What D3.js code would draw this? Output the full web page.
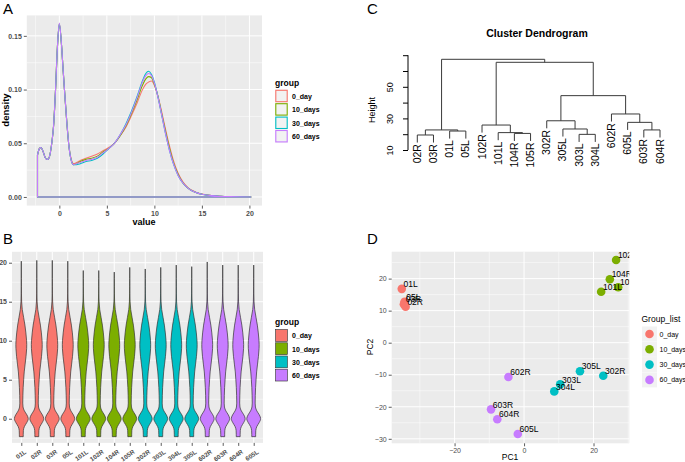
<!DOCTYPE html>
<html><head><meta charset="utf-8">
<script src="https://cdn.jsdelivr.net/npm/d3@7"></script>
<style>
body{margin:0;background:#fff;}
svg{display:block;font-family:"Liberation Sans",Arial,Helvetica,sans-serif;}
</style></head><body>
<svg id="c" width="685" height="462"></svg>
<script>
// ---------- shared ----------
const groups = ["0_day","10_days","30_days","60_days"];
const groupColors = ["#F8766D","#7CAE00","#00BFC4","#C77CFF"];

// ---------- Panel A: density ----------
const densX  = [-2.3,-2.1,-1.93,-1.7,-1.45,-1.22,-1.0,-0.8,-0.6,-0.4,-0.2,0.0,0.2,0.4,0.6,0.8,1.0,1.2,1.5,1.8,2.2,2.8,3.4,4.0,4.6,5.2,5.8,6.4,7.0,7.6,8.2,8.7,9.1,9.4,9.7,10.0,10.4,10.8,11.2,11.6,12.0,12.5,13.0,13.5,14.0,14.5,15.0,16.0,17.0,18.0,19.0,20.2];
const dens0  = [0.039,0.045,0.046,0.042,0.036,0.035,0.039,0.050,0.067,0.100,0.140,0.161,0.145,0.118,0.092,0.068,0.048,0.037,0.031,0.032,0.034,0.036,0.038,0.040,0.043,0.046,0.050,0.057,0.065,0.076,0.088,0.099,0.105,0.107,0.108,0.104,0.093,0.078,0.062,0.047,0.034,0.022,0.014,0.009,0.006,0.004,0.0028,0.0013,0.0006,0.0003,0.0001,0];
const dens10 = [0.039,0.045,0.046,0.042,0.036,0.035,0.039,0.050,0.067,0.100,0.140,0.161,0.145,0.118,0.092,0.068,0.048,0.036,0.030,0.031,0.033,0.035,0.036,0.038,0.042,0.045,0.050,0.057,0.066,0.078,0.091,0.103,0.110,0.112,0.111,0.105,0.093,0.076,0.060,0.045,0.032,0.021,0.013,0.0085,0.0055,0.0038,0.0026,0.0012,0.0006,0.0003,0.0001,0];
const dens30 = [0.039,0.045,0.046,0.042,0.036,0.035,0.039,0.050,0.067,0.100,0.140,0.161,0.145,0.118,0.092,0.068,0.048,0.036,0.030,0.030,0.031,0.033,0.034,0.036,0.040,0.045,0.050,0.058,0.068,0.080,0.094,0.107,0.115,0.117,0.114,0.107,0.092,0.075,0.058,0.043,0.031,0.020,0.013,0.0085,0.0055,0.0038,0.0026,0.0012,0.0006,0.0003,0.0001,0];
const dens60 = [0.039,0.045,0.046,0.042,0.036,0.035,0.039,0.050,0.067,0.100,0.140,0.162,0.145,0.118,0.092,0.068,0.048,0.036,0.030,0.031,0.032,0.034,0.035,0.037,0.041,0.045,0.050,0.058,0.067,0.079,0.093,0.106,0.113,0.115,0.113,0.106,0.092,0.075,0.058,0.043,0.031,0.020,0.013,0.0085,0.0055,0.0038,0.0026,0.0012,0.0006,0.0003,0.0001,0];
const densTicksX = [0,5,10,15,20];
const densTicksY = [0,0.05,0.10,0.15];

// ---------- Panel B: violins ----------
const samples = ["01L","02R","03R","05L","101L","102R","104R","105R","302R","303L","304L","305L","602R","603R","604R","605L"];
const sampleGroup = [0,0,0,0,1,1,1,1,2,2,2,2,3,3,3,3];
const sampleMax = [20.2,20.3,20.3,20.2,19.0,19.0,18.8,19.4,19.2,19.4,19.7,19.5,20.1,19.7,19.7,19.7];
const violinLevels = [-2.3,-2.0,-1.5,-1.0,-0.5,0,0.5,1.0,1.5,2.0,3.0,4.0,5.0,6.0,7.0,8.0,9.0,9.5,10.0,11.0,12.0,13.0,14.0,15.0,16.0,17.0,18.0];
const violinWidth  = [0.28,0.28,0.30,0.45,0.78,1.0,0.80,0.45,0.25,0.21,0.23,0.27,0.34,0.42,0.55,0.68,0.77,0.78,0.76,0.66,0.52,0.33,0.14,0.05,0.025,0.015,0.008];
const violinTicksY = [0,5,10,15,20];

// ---------- Panel C: dendrogram ----------
const leafLabels = ["02R","03R","01L","05L","102R","101L","104R","105R","302R","305L","303L","304L","602R","605L","603R","604R"];
// R hclust-style merges: negative = leaf (1-based position in leafLabels), positive = earlier merge
const mergeA = [-1,-7,-11,-6,-3, 1,-15,-10,-5,-14,-9,-13,11, 9, 6];
const mergeB = [-2,-8,-12, 2,-4, 5,-16,  3, 4,  7, 8, 10,12,13,14];
const mergeH = [19.5,20.5,19.9,21.0,22.0,22.7,22.7,23.3,25.8,27.5,28.5,32.8,44.4,65.5,67.4];
const dendTicks = [10,20,30,40,50,60,70];
const dendTickLabels = [10,30,50];

// ---------- Panel D: PCA ----------
const pcaLabels = ["01L","05L","03R","02R","102R","104R","105R","101L","305L","302R","303L","304L","602R","603R","604R","605L"];
const pcaGroup  = [0,0,0,0,1,1,1,1,2,2,2,2,3,3,3,3];
const pc1 = [-35.2,-34.4,-34.6,-34.1,26.5,24.7,27.1,22.2,16.1,22.8,10.4,8.7,-4.5,-9.5,-7.7,-1.8];
const pc2 = [16.8,12.8,12.0,11.2,25.8,19.8,17.3,15.9,-8.9,-10.3,-13.0,-15.2,-10.7,-20.8,-23.9,-28.5];
const pcTicksX = [-20,0,20];
const pcTicksY = [-30,-20,-10,0,10,20];

const svg = d3.select("#c");
const BG = "#EBEBEB", TXT = "#4D4D4D", TICK = "#333333";

function panelBg(x0,x1,y0,y1){
  svg.append("rect").attr("x",x0).attr("y",y0).attr("width",x1-x0).attr("height",y1-y0).attr("fill",BG);
}
function vgrid(xs, y0,y1, w){ xs.forEach(v=>svg.append("line").attr("x1",v).attr("x2",v).attr("y1",y0).attr("y2",y1).attr("stroke","#fff").attr("stroke-width",w)); }
function hgrid(ys, x0,x1, w){ ys.forEach(v=>svg.append("line").attr("y1",v).attr("y2",v).attr("x1",x0).attr("x2",x1).attr("stroke","#fff").attr("stroke-width",w)); }
function styleAxis(g, fs, bold){
  g.select(".domain").remove();
  g.selectAll(".tick line").attr("stroke",TICK).attr("stroke-width",0.8);
  g.selectAll(".tick text").attr("fill",TXT).attr("font-size",fs).attr("font-weight",bold?"bold":"normal").attr("font-family","Liberation Sans, Arial, sans-serif");
}
function panelLetter(t,x,y){ svg.append("text").attr("x",x).attr("y",y).attr("font-size",15).attr("fill","#000").text(t); }

// ================= Panel A =================
{
  const x = d3.scaleLinear().domain([-3.425,21.325]).range([26.8,262]);
  const y = d3.scaleLinear().domain([-0.00805,0.16905]).range([205.6,15.4]);
  panelBg(26.8,262,15.4,205.6);
  vgrid([-2.5,2.5,7.5,12.5,17.5].map(x),15.4,205.6,0.5);
  hgrid([0.025,0.075,0.125].map(y),26.8,262,0.5);
  vgrid(densTicksX.map(x),15.4,205.6,1);
  hgrid(densTicksY.map(y),26.8,262,1);
  const series = [dens0,dens10,dens30,dens60];
  const area = d3.area().curve(d3.curveMonotoneX).x(d=>x(d[0])).y0(y(0)).y1(d=>y(d[1]));
  series.forEach((s,i)=>{
    const pts = densX.map((v,j)=>[v,s[j]]);
    svg.append("path").attr("d",area(pts)).attr("fill","none").attr("stroke",groupColors[i]).attr("stroke-width",1.1);
  });
  const gx = svg.append("g").attr("transform","translate(0,205.6)").call(d3.axisBottom(x).tickValues(densTicksX).tickSize(3).tickPadding(2).tickFormat(d3.format("d")));
  styleAxis(gx,7,true);
  const gy = svg.append("g").attr("transform","translate(26.8,0)").call(d3.axisLeft(y).tickValues(densTicksY).tickSize(3).tickPadding(2).tickFormat(d3.format(".2f")));
  styleAxis(gy,7,true);
  svg.append("text").attr("x",144).attr("y",225).attr("text-anchor","middle").attr("font-size",9).attr("font-weight","bold").text("value");
  svg.append("text").attr("transform","translate(9,110) rotate(-90)").attr("text-anchor","middle").attr("font-size",9.5).attr("font-weight","bold").text("density");
  // legend
  svg.append("text").attr("x",275).attr("y",86).attr("font-size",8.5).attr("font-weight","bold").text("group");
  groups.forEach((g,i)=>{
    const yy = 89.5+i*13.4;
    svg.append("rect").attr("x",275).attr("y",yy).attr("width",13).attr("height",13).attr("fill","#F2F2F2");
    svg.append("rect").attr("x",275.8).attr("y",yy+0.8).attr("width",11.4).attr("height",11.4).attr("fill","none").attr("stroke",groupColors[i]).attr("stroke-width",1.1);
    svg.append("text").attr("x",292).attr("y",yy+9.3).attr("font-size",7).attr("font-weight","bold").attr("fill","#000").text(g);
  });
  panelLetter("A",3,14);
}

// ================= Panel B =================
{
  const x = d3.scalePoint().domain(samples).range([12,263]).padding(0.6);
  const y = d3.scaleLinear().domain([-3.1,21.4]).range([442.9,251.8]);
  panelBg(12,263,251.8,442.9);
  hgrid([-2.5,2.5,7.5,12.5,17.5].map(y),12,263,0.5);
  hgrid(violinTicksY.map(y),12,263,1);
  vgrid(samples.map(x),251.8,442.9,1);
  const half = x.step()*0.45;
  const area = d3.area().curve(d3.curveMonotoneY).y(d=>y(d[0]));
  samples.forEach((s,i)=>{
    const cx = x(s);
    const pts = violinLevels.map((l,j)=>[l,violinWidth[j]]).filter(p=>p[0] < sampleMax[i]-0.3);
    pts.push([sampleMax[i],0]);
    const a = area.x0(d=>cx-d[1]*half).x1(d=>cx+d[1]*half);
    svg.append("path").attr("d",a(pts)).attr("fill",groupColors[sampleGroup[i]]).attr("stroke","#333").attr("stroke-width",0.7);
  });
  const gx = svg.append("g").attr("transform","translate(0,442.9)").call(d3.axisBottom(x).tickSize(3).tickPadding(2));
  styleAxis(gx,6.3,true);
  gx.selectAll(".tick text").attr("text-anchor","end").attr("dy",0).attr("transform","translate(2,6) rotate(-35)");
  const gy = svg.append("g").attr("transform","translate(12,0)").call(d3.axisLeft(y).tickValues(violinTicksY).tickSize(3).tickPadding(2));
  styleAxis(gy,7,true);
  svg.append("text").attr("x",275).attr("y",325).attr("font-size",8.5).attr("font-weight","bold").text("group");
  groups.forEach((g,i)=>{
    const yy = 329+i*13.2;
    svg.append("rect").attr("x",275).attr("y",yy).attr("width",13).attr("height",13).attr("fill","#F2F2F2");
    svg.append("rect").attr("x",275.6).attr("y",yy+0.6).attr("width",11.8).attr("height",11.8).attr("fill",groupColors[i]).attr("stroke","#333").attr("stroke-width",0.6);
    svg.append("text").attr("x",292).attr("y",yy+9.3).attr("font-size",7).attr("font-weight","bold").attr("fill","#000").text(g);
  });
  panelLetter("B",3,244);
}

// ================= Panel C =================
{
  const x = d3.scaleLinear().domain([1,16]).range([417.3,660]);
  const y = d3.scaleLinear().domain([10,70]).range([150,55.2]);
  const hang = 0.1*(d3.max(mergeH)-d3.min(mergeH));
  const nodeX = [];
  const childX = c => c<0 ? x(-c) : nodeX[c-1];
  const col = "#3a3a3a";
  mergeH.forEach((h,i)=>{
    const a = mergeA[i], b = mergeB[i];
    const xa = childX(a), xb = childX(b);
    const ya = a<0 ? h-hang : mergeH[a-1];
    const yb = b<0 ? h-hang : mergeH[b-1];
    nodeX.push((xa+xb)/2);
    svg.append("path").attr("d",`M${xa},${y(ya)}V${y(h)}H${xb}V${y(yb)}`).attr("fill","none").attr("stroke",col).attr("stroke-width",1);
    [[a,xa,ya],[b,xb,yb]].forEach(([c,cx,cy])=>{
      if(c<0){
        svg.append("text").attr("transform",`translate(${cx+3.5},${y(cy)+1.5}) rotate(-90)`).attr("text-anchor","end").attr("font-size",10.5).attr("fill","#000").text(leafLabels[-c-1]);
      }
    });
  });
  const gy = svg.append("g").attr("transform","translate(408,0)").call(d3.axisLeft(y).tickValues(dendTicks).tickSize(5).tickFormat(d=>dendTickLabels.includes(d)?d:""));
  gy.select(".domain").attr("stroke","#000").attr("d",`M0,${y(10)}V${y(70)}`);
  gy.selectAll(".tick line").attr("stroke","#000");
  gy.selectAll(".tick text").attr("fill","#000").attr("font-size",9).attr("text-anchor","middle").attr("x",0).attr("dy",0)
    .attr("transform","translate(-15,0) rotate(-90)");
  svg.append("text").attr("transform","translate(375,110) rotate(-90)").attr("text-anchor","middle").attr("font-size",9).text("Height");
  svg.append("text").attr("x",537).attr("y",37).attr("text-anchor","middle").attr("font-size",10.5).attr("font-weight","bold").text("Cluster Dendrogram");
  panelLetter("C",367,14);
}

// ================= Panel D =================
{
  const x = d3.scaleLinear().domain([-38.1,30.3]).range([391.7,629.3]);
  const y = d3.scaleLinear().domain([-31.4,28.4]).range([443.3,251.7]);
  panelBg(391.7,629.3,251.7,443.3);
  vgrid([-30,-10,10,30].map(x),251.7,443.3,0.5);
  hgrid([-25,-15,-5,5,15,25].map(y),391.7,629.3,0.5);
  vgrid(pcTicksX.map(x),251.7,443.3,1);
  hgrid(pcTicksY.map(y),391.7,629.3,1);
  svg.append("clipPath").attr("id","clipD").append("rect").attr("x",391.7).attr("y",251.7).attr("width",237.6).attr("height",191.6);
  const g = svg.append("g").attr("clip-path","url(#clipD)");
  pc1.forEach((v,i)=>{
    g.append("circle").attr("cx",x(v)).attr("cy",y(pc2[i])).attr("r",4.3).attr("fill",groupColors[pcaGroup[i]]);
  });
  pc1.forEach((v,i)=>{
    g.append("text").attr("x",x(v)+1.8).attr("y",y(pc2[i])-1.8).attr("font-size",8.5).attr("fill","#000").text(pcaLabels[i]);
  });
  const gx = svg.append("g").attr("transform","translate(0,443.3)").call(d3.axisBottom(x).tickValues(pcTicksX).tickSize(3).tickPadding(2).tickFormat(d=>d<0?"\u2212"+(-d):d));
  styleAxis(gx,7,false);
  const gy = svg.append("g").attr("transform","translate(391.7,0)").call(d3.axisLeft(y).tickValues(pcTicksY).tickSize(3).tickPadding(2).tickFormat(d=>d<0?"\u2212"+(-d):d));
  styleAxis(gy,7,false);
  svg.append("text").attr("x",510).attr("y",460).attr("text-anchor","middle").attr("font-size",8.5).text("PC1");
  svg.append("text").attr("transform","translate(373,347) rotate(-90)").attr("text-anchor","middle").attr("font-size",8.5).text("PC2");
  svg.append("text").attr("x",641.5).attr("y",322).attr("font-size",8.5).text("Group_list");
  groups.forEach((gname,i)=>{
    const cy = 334+i*15.3;
    svg.append("rect").attr("x",642).attr("y",cy-7.5).attr("width",15).attr("height",15).attr("fill","#F2F2F2");
    svg.append("circle").attr("cx",649.5).attr("cy",cy).attr("r",4.3).attr("fill",groupColors[i]);
    svg.append("text").attr("x",659.5).attr("y",cy+2.5).attr("font-size",7).attr("fill","#000").text(gname);
  });
  panelLetter("D",367,244);
}
</script></body></html>
